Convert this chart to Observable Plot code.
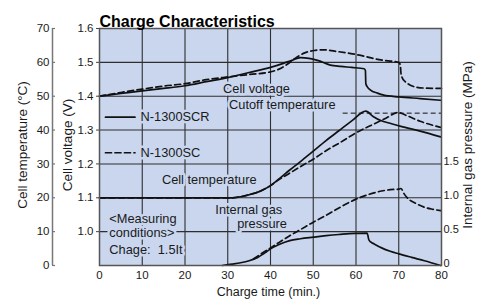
<!DOCTYPE html>
<html><head><meta charset="utf-8">
<script src="https://cdn.jsdelivr.net/npm/d3@7"></script>
<script src="https://cdn.jsdelivr.net/npm/@observablehq/plot@0.6"></script>
<style>html,body{margin:0;padding:0;background:#fff;} #chart svg{display:block}</style>
</head><body><div id="chart"></div>
<script>
// ---- ticks ----
const xTicks = [0, 10, 20, 30, 40, 50, 60, 70, 80];
const voltTicks = [1.0, 1.1, 1.2, 1.3, 1.4, 1.5, 1.6];
const tempTicks = [0, 10, 20, 30, 40, 50, 60, 70];
const presTicks = [0, 0.5, 1.0, 1.5];
const gridVolt = [1.0, 1.1, 1.2, 1.3, 1.4, 1.5];
const gridTime = [10, 20, 30, 40, 50, 60, 70];
const cutoffTemp = 45;

// ---- series (time in min.) ----
// Cell voltage (V)
const scrVoltT = [0, 5, 10, 15, 20, 25, 30, 35, 40, 43, 45, 47, 49, 51, 54, 56.4, 59, 61.9, 62.2, 62.3, 62.7, 63.4, 65, 66.5, 70.1, 75, 79.8];
const scrVoltV = [1.400, 1.408, 1.416, 1.423, 1.431, 1.443, 1.455, 1.470, 1.485, 1.497, 1.506, 1.514, 1.512, 1.506, 1.492, 1.488, 1.485, 1.481, 1.476, 1.437, 1.427, 1.418, 1.409, 1.403, 1.398, 1.393, 1.388];
const scVoltT = [0, 5, 10, 15, 20, 25, 30, 35, 40, 42, 44, 46, 48, 50.2, 52.5, 55, 58.8, 62, 64.2, 67, 69.7, 70.1, 70.4, 70.5, 70.8, 71.5, 72.5, 74, 76, 80];
const scVoltV = [1.400, 1.411, 1.421, 1.430, 1.437, 1.449, 1.457, 1.464, 1.472, 1.480, 1.495, 1.514, 1.528, 1.535, 1.537, 1.533, 1.526, 1.518, 1.511, 1.505, 1.501, 1.499, 1.490, 1.470, 1.455, 1.443, 1.434, 1.427, 1.424, 1.423];
// Cell temperature (°C)
const scrTempT = [0, 31, 33, 35, 37.5, 40, 42, 44.5, 47, 50, 53, 56, 59, 62.3, 64, 65.8, 68, 70.5, 75, 79.8];
const scrTempC = [20, 20, 20.3, 20.9, 21.9, 23.6, 25.6, 28.2, 30.7, 33.8, 36.9, 39.8, 42.7, 45.6, 44.0, 42.8, 42.0, 41.1, 39.7, 38.0];
const scTempT = [0, 31, 33, 35, 37.5, 40, 42, 44, 47, 50, 53, 56.4, 60, 64.2, 67, 69.8, 72, 75, 79.8];
const scTempC = [20, 20, 20.3, 20.9, 21.9, 23.6, 25.4, 26.9, 29.2, 31.4, 33.9, 36.4, 39.2, 41.8, 43.5, 45.2, 44.2, 42.6, 40.8];
// Internal gas pressure (MPa)
const scrPresT = [28.7, 31, 33, 35, 37, 39, 40, 42, 44.5, 47, 50, 53, 56, 59.7, 62.6, 62.8, 63.0, 63.5, 64.2, 66, 68, 70, 73, 76, 79.8];
const scrPresP = [0, 0.02, 0.04, 0.07, 0.12, 0.2, 0.245, 0.31, 0.368, 0.395, 0.418, 0.44, 0.458, 0.475, 0.477, 0.44, 0.38, 0.345, 0.32, 0.26, 0.21, 0.172, 0.12, 0.07, 0];
const scPresT = [36, 38, 40, 42, 44.5, 47, 50, 53, 56, 60, 63, 66, 68, 70.1, 70.5, 71.3, 72.3, 73.6, 76, 78, 79.8];
const scPresP = [0.095, 0.18, 0.26, 0.34, 0.44, 0.53, 0.64, 0.74, 0.85, 0.98, 1.05, 1.10, 1.12, 1.128, 1.137, 1.054, 0.98, 0.93, 0.86, 0.83, 0.81];

// ---- text annotations (x in min., y in volts) ----
const labelText = ["Cell voltage", "Cutoff temperature", "Cell temperature", "Internal gas", "pressure", "<Measuring", "conditions>", "Chage:  1.5It", "N-1300SCR", "N-1300SC"];
const labelT = [28.9, 30.3, 14.6, 27.1, 32.2, 2.3, 2.3, 2.3, 9.6, 9.6];
const labelV = [1.4206, 1.3735, 1.153, 1.064, 1.0225, 1.038, 0.9956, 0.947, 1.338, 1.2324];
const legendT = [1.4, 8.3];
const legendV = [1.338, 1.233];
const cutoffT = [57, 80];

// ---- conversions onto the voltage scale ----
const tempToV = c => 0.9 + c / 100;
const presToV = p => 0.9 + p / 5;

const rows = [];
const add = (series, style, ts, vs, conv) => ts.forEach((t, i) => rows.push({series, style, t, v: conv(vs[i])}));
add("scrVolt", "solid", scrVoltT, scrVoltV, v => v);
add("scVolt", "dash", scVoltT, scVoltV, v => v);
add("scrTemp", "solid", scrTempT, scrTempC, tempToV);
add("scTemp", "dash", scTempT, scTempC, tempToV);
add("scrPres", "solid", scrPresT, scrPresP, presToV);
add("scPres", "dash", scPresT, scPresP, presToV);

const labels = labelText.map((s, i) => ({s, t: labelT[i], v: labelV[i]}));
const legendRows = [
  {k: "solid", t: legendT[0], v: legendV[0]}, {k: "solid", t: legendT[1], v: legendV[0]},
  {k: "dash", t: legendT[0], v: legendV[1]}, {k: "dash", t: legendT[1], v: legendV[1]}
];

const bg = "#c9d6ee";
const font = "'Liberation Sans', Arial, Helvetica, sans-serif";
const ink = "#1a1a1a";

const chart = Plot.plot({
  width: 481, height: 303,
  marginLeft: 99, marginRight: 40, marginTop: 28, marginBottom: 38,
  x: {domain: [0, 80], axis: null},
  y: {domain: [0.9, 1.6], axis: null},
  style: {fontFamily: font, color: ink, background: "#fff", overflow: "visible"},
  marks: [
    Plot.frame({fill: bg, stroke: "none"}),
    Plot.ruleY(gridVolt, {stroke: "#2e2e2e", strokeWidth: 1.1}),
    Plot.ruleX(gridTime, {stroke: "#2e2e2e", strokeWidth: 1.1}),
    Plot.ruleY([tempToV(cutoffTemp)], {x1: cutoffT[0], x2: cutoffT[1], stroke: "#111", strokeWidth: 1, strokeDasharray: "5,3"}),
    Plot.text(labels, {x: "t", y: "v", text: "s", textAnchor: "start", lineAnchor: "middle", fontSize: 12.8, fill: ink, stroke: bg, strokeWidth: 5}),
    Plot.line(legendRows.filter(d => d.k === "solid"), {x: "t", y: "v", stroke: "#111", strokeWidth: 1.7}),
    Plot.line(legendRows.filter(d => d.k === "dash"), {x: "t", y: "v", stroke: "#111", strokeWidth: 1.7, strokeDasharray: "6,3.5"}),
    Plot.line(rows.filter(d => d.style === "solid"), {x: "t", y: "v", z: "series", stroke: "#111", strokeWidth: 1.7, curve: "monotone-x"}),
    Plot.line(rows.filter(d => d.style === "dash"), {x: "t", y: "v", z: "series", stroke: "#111", strokeWidth: 1.7, strokeDasharray: "6,3.5", curve: "monotone-x"}),
    Plot.frame({stroke: "#555", strokeWidth: 1.5}),
    // voltage axis
    Plot.axisY(voltTicks, {anchor: "left", label: null, tickSize: 3, tickPadding: 3, tickFormat: d3.format(".1f"), fontSize: 11.5, stroke: "#444", fill: ink}),
    // temperature axis (offset left)
    Plot.ruleX([0], {dx: -47, stroke: "#777", strokeWidth: 1.5}),
    Plot.tickY(tempTicks, {y: tempToV, dx: -47, insetRight: 339, stroke: "#777", strokeWidth: 1.2}),
    Plot.axisY(tempTicks.map(tempToV), {anchor: "left", label: null, dx: -47, tickSize: 0, tickPadding: 3, tickFormat: v => String(Math.round((v - 0.9) * 100)), fontSize: 11.5, fill: ink}),
    // pressure axis (right)
    Plot.axisY(presTicks.map(presToV), {anchor: "right", label: null, tickSize: 0, tickPadding: 2, dy: -2, tickFormat: v => { const p = Math.round((v - 0.9) * 50) / 10; return p === 0 ? "0" : p.toFixed(1); }, fontSize: 11, fill: ink}),
    // x axis
    Plot.axisX(xTicks, {anchor: "bottom", label: null, tickSize: 0, tickPadding: 5, fontSize: 11.5, fill: ink}),
    // axis titles
    Plot.text(["Charge time (min.)"], {frameAnchor: "bottom", textAnchor: "middle", dy: 30, dx: -2, fontSize: 12.5, fill: ink}),
    Plot.text(["Cell temperature (°C)"], {frameAnchor: "left", textAnchor: "middle", dx: -77, dy: -2, rotate: -90, fontSize: 13.5, fill: ink}),
    Plot.text(["Cell voltage (V)"], {frameAnchor: "left", textAnchor: "middle", dx: -32, dy: -2, rotate: -90, fontSize: 13.5, fill: ink}),
    Plot.text(["Internal gas pressure (MPa)"], {frameAnchor: "right", textAnchor: "middle", dx: 26, dy: -2, rotate: -90, fontSize: 13.5, fill: ink}),
    // title
    Plot.text(["Charge Characteristics"], {frameAnchor: "top-left", dy: -13, dx: 0, textAnchor: "start", fontSize: 16, fontWeight: "bold", fill: "#000"})
  ]
});
document.getElementById("chart").appendChild(chart);
</script>
</body></html>
